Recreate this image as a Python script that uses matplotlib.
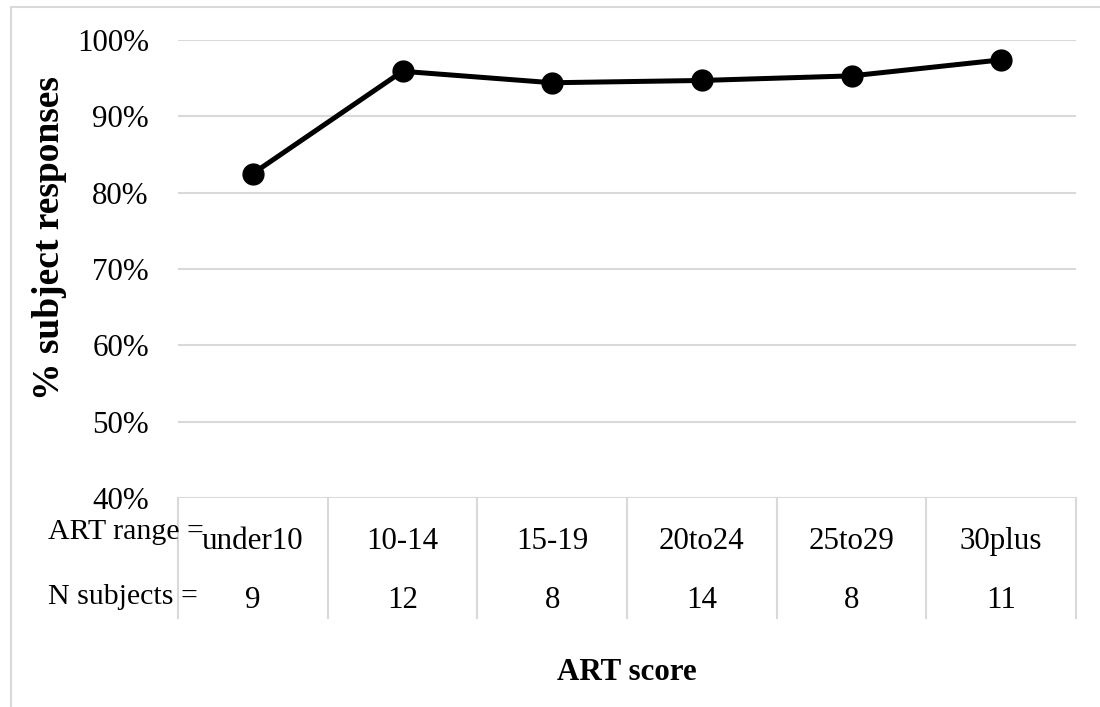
import matplotlib
matplotlib.use("Agg")
import matplotlib.pyplot as plt
from matplotlib.lines import Line2D
from matplotlib.patches import Rectangle
from matplotlib.ticker import FuncFormatter, FixedLocator

categories = ["under10", "10-14", "15-19", "20to24", "25to29", "30plus"]
n_subjects = ["9", "12", "8", "14", "8", "11"]
pct_responses = [0.825, 0.959, 0.944, 0.947, 0.953, 0.974]
y_ticks = [0.4, 0.5, 0.6, 0.7, 0.8, 0.9, 1.0]

W, H = 1100, 707
FS = 22.3
plt.rcParams['font.family'] = ['Liberation Serif', 'DejaVu Serif']
fig = plt.figure(figsize=(W / 100, H / 100), dpi=100)

# chart border
fig.patches.append(Rectangle((11 / W, -0.1), 1.2, 1 - 7 / H + 0.1, transform=fig.transFigure,
                             fill=False, edgecolor='#d9d9d9', linewidth=1.5))

L, R, T, B = 178, 1076, 40, 498
ax = fig.add_axes([L / W, 1 - B / H, (R - L) / W, (B - T) / H])
x = list(range(len(categories)))
ax.plot(x, pct_responses, color='black', linewidth=3.6, marker='o', markersize=15, zorder=3)
ax.set_xlim(-0.5, len(categories) - 0.5)
ax.set_ylim(0.4, 1.0)
ax.yaxis.set_major_locator(FixedLocator(y_ticks))
ax.yaxis.set_major_formatter(FuncFormatter(lambda v, p: f"{v*100:.0f}%"))
ax.grid(axis='y', color='#d9d9d9', linewidth=1.5)
for s in ax.spines.values():
    s.set_visible(False)
ax.tick_params(axis='y', length=0, labelsize=FS, pad=21)
ax.set_xticks([])
ax.set_axisbelow(True)

# category table below axis
ph = B - T
def ya(ypix):
    return (B - ypix) / ph
for b in range(len(categories) + 1):
    ax.add_line(Line2D([b - 0.5, b - 0.5], [ya(B), ya(618)], color='#d9d9d9', linewidth=1.5,
                       transform=ax.get_xaxis_transform(), clip_on=False))
tr = ax.get_xaxis_transform()
for i, (c, n) in enumerate(zip(categories, n_subjects)):
    ax.text(i, ya(549), c, transform=tr, ha='center', va='baseline', fontsize=FS)
    ax.text(i, ya(608), n, transform=tr, ha='center', va='baseline', fontsize=FS)
fig.text(48 / W, 1 - 539 / H, "ART range =", ha='left', va='baseline', fontsize=21.5)
fig.text(48 / W, 1 - 604 / H, "N subjects =", ha='left', va='baseline', fontsize=21.5)

fig.text((L + R) / 2 / W, 1 - 680 / H, "ART score", ha='center', va='baseline',
         fontsize=FS, fontweight='bold')
fig.text(50 / W, 1 - 238 / H, "% subject responses", ha='center', va='center',
         rotation=90, fontsize=27, fontweight='bold')

fig.savefig("out.png", dpi=100)
